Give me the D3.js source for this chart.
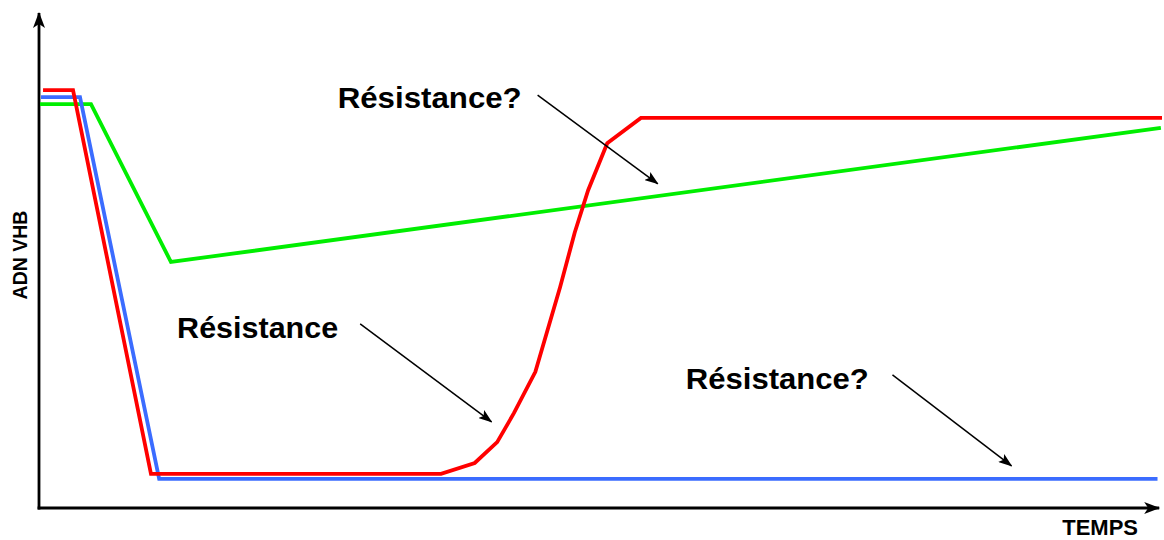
<!DOCTYPE html>
<html>
<head>
<meta charset="utf-8">
<script src="https://cdn.jsdelivr.net/npm/d3@7/dist/d3.min.js"></script>
<style>
  html, body { margin: 0; padding: 0; background: #fff; }
  svg { display: block; }
  text { font-family: "Liberation Sans", Arial, Helvetica, sans-serif; font-weight: bold; fill: #000; }
</style>
</head>
<body>
<svg id="chart" width="1164" height="540"></svg>
<script>
// Time axis (arbitrary units) and viral DNA level (arbitrary units)
const redTime   = [0.36, 3.03, 9.97, 35.8, 38.8, 40.8, 42.3, 44.2, 46.4, 47.7, 48.9, 50.6, 53.6, 100];
const redLevel  = [84.4, 84.4, 6.9, 6.9, 9.1, 13.3, 19.2, 27.5, 44.6, 55.6, 64.2, 73.7, 78.8, 78.8];

const blueTime  = [0.18, 3.65, 10.7, 99.6];
const blueLevel = [83.0, 83.0, 5.9, 5.9];

const greenTime  = [0.09, 4.63, 11.75, 99.9];
const greenLevel = [81.6, 81.6, 49.7, 76.8];

// Annotations: label anchor and arrow from -> to
const labelText  = ["Résistance?", "Résistance", "Résistance?"];
const labelTime  = [26.6, 12.3, 57.6];
const labelLevel = [80.8, 34.3, 24.0];
const arrowFrom  = [[44.4, 83.4], [28.6, 37.2], [76.0, 26.9]];
const arrowTo    = [[55.1, 65.5], [40.3, 17.4], [86.6, 8.5]];

const axisTitles = { x: "TEMPS", y: "ADN VHB" };

const svg = d3.select("#chart");
const x = d3.scaleLinear().domain([0, 100]).range([39, 1162]);
const y = d3.scaleLinear().domain([0, 100]).range([508, 13]);

const defs = svg.append("defs");
defs.append("marker")
  .attr("id", "axisHead").attr("viewBox", "0 0 16 12")
  .attr("refX", 15).attr("refY", 6)
  .attr("markerWidth", 16).attr("markerHeight", 12)
  .attr("markerUnits", "userSpaceOnUse").attr("orient", "auto")
  .append("path").attr("d", "M0,0 L16,6 L0,12 L4,6 Z").attr("fill", "#000");
defs.append("marker")
  .attr("id", "noteHead").attr("viewBox", "0 0 14 10")
  .attr("refX", 13).attr("refY", 5)
  .attr("markerWidth", 14).attr("markerHeight", 10)
  .attr("markerUnits", "userSpaceOnUse").attr("orient", "auto")
  .append("path").attr("d", "M0,0 L14,5 L0,10 L3,5 Z").attr("fill", "#000");

// Axes with arrowheads
svg.append("line")
  .attr("x1", x(0)).attr("y1", y(0) + 1.5)
  .attr("x2", x(0)).attr("y2", y(100))
  .attr("stroke", "#000").attr("stroke-width", 2.8)
  .attr("marker-end", "url(#axisHead)");
svg.append("line")
  .attr("x1", x(0) - 1.4).attr("y1", y(0))
  .attr("x2", x(99.75)).attr("y2", y(0))
  .attr("stroke", "#000").attr("stroke-width", 2.8)
  .attr("marker-end", "url(#axisHead)");

// Axis titles
svg.append("text")
  .attr("x", 1138).attr("y", 535)
  .attr("text-anchor", "end")
  .attr("font-size", 22)
  .text(axisTitles.x);
svg.append("text")
  .attr("transform", "translate(27,255) rotate(-90)")
  .attr("text-anchor", "middle")
  .attr("font-size", 19.5)
  .text(axisTitles.y);

// Series curves
const line = d3.line().x(d => x(d[0])).y(d => y(d[1]));
const series = [
  { t: greenTime, v: greenLevel, color: "#00ee00" },
  { t: blueTime,  v: blueLevel,  color: "#3b6cff" },
  { t: redTime,   v: redLevel,   color: "#ff0000" }
];
svg.selectAll("path.series")
  .data(series)
  .join("path")
  .attr("class", "series")
  .attr("d", s => line(s.t.map((t, i) => [t, s.v[i]])))
  .attr("fill", "none")
  .attr("stroke", s => s.color)
  .attr("stroke-width", 3.8);

// Annotation arrows
svg.selectAll("line.note")
  .data(arrowFrom)
  .join("line")
  .attr("class", "note")
  .attr("x1", d => x(d[0])).attr("y1", d => y(d[1]))
  .attr("x2", (d, i) => x(arrowTo[i][0])).attr("y2", (d, i) => y(arrowTo[i][1]))
  .attr("stroke", "#000").attr("stroke-width", 1.5)
  .attr("marker-end", "url(#noteHead)");

// Annotation labels
const labelWidths = [184, 161, 183];
svg.selectAll("text.note")
  .data(labelText)
  .join("text")
  .attr("class", "note")
  .attr("x", (d, i) => x(labelTime[i]))
  .attr("y", (d, i) => y(labelLevel[i]))
  .attr("font-size", 29)
  .attr("textLength", (d, i) => labelWidths[i])
  .attr("lengthAdjust", "spacingAndGlyphs")
  .text(d => d);
</script>
</body>
</html>
